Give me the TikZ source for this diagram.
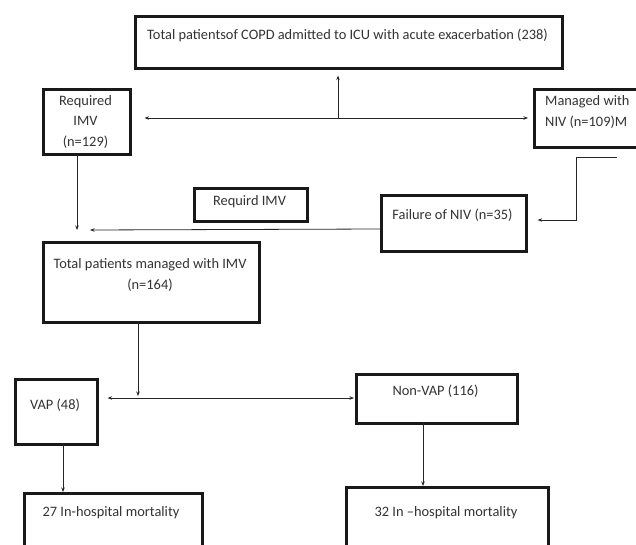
\documentclass[tikz,border=0pt]{standalone}
\usepackage{fontspec}
\setmainfont{Carlito}
\usetikzlibrary{arrows.meta}
\begin{document}
\begin{tikzpicture}[x=1pt,y=-1pt,
  box/.style={draw=black!90, line width=2.6pt, inner sep=0pt, anchor=north west},
  txt/.style={inner sep=0pt, text=black!80, font=\fontsize{14.4}{20.5}\selectfont, align=center},
  conn/.style={draw=black!85, line width=0.8pt},
  >={Stealth[length=4.5pt,width=3.5pt]}]
\clip (0,0) rectangle (636,545);
\fill[white] (0,0) rectangle (636,545);
% boxes
\node[box, minimum width=427, minimum height=52] (top) at (134,15) {};
\node[box, minimum width=87, minimum height=65] (req) at (42,88) {};
\node[box, minimum width=130, minimum height=58] (niv) at (533,88) {};
\node[box, minimum width=113, minimum height=33] (reqird) at (193,187) {};
\node[box, minimum width=145, minimum height=56] (fail) at (380,194) {};
\node[box, minimum width=216, minimum height=80] (imv) at (42,241) {};
\node[box, minimum width=82, minimum height=65] (vap) at (14,378) {};
\node[box, minimum width=161, minimum height=49] (nonvap) at (355,373) {};
\node[box, minimum width=178, minimum height=80] (m27) at (23,492) {};
\node[box, minimum width=202, minimum height=80] (m32) at (345,486) {};
% texts
\node[txt] (ttop) at (347.5,35) {Total patientsof COPD admitted to ICU with acute exacerbation (238)};
\node[txt] (treq) at (85.5,122) {Required\\IMV\\(n=129)};
\node[txt, align=left, anchor=west] (tniv) at (545,112) {Managed with\\NIV (n=109)M};
\node[txt] (treqird) at (249.5,202) {Requird IMV};
\node[txt] (tfail) at (452.5,215) {Failure of NIV (n=35)};
\node[txt] (timv) at (150,275) {Total patients managed with IMV\\(n=164)};
\node[txt] (tvap) at (55,405) {VAP (48)};
\node[txt] (tnonvap) at (435.5,391) {Non-VAP (116)};
\node[txt] (t27) at (111,513) {27 In-hospital mortality};
\node[txt] (t32) at (446,513) {32 In \textendash hospital mortality};
% coordinates
\coordinate (j1) at (338,118);
\coordinate (a1) at (77,153);
\coordinate (n1) at (617,157);
\coordinate (n2) at (576,157);
\coordinate (n3) at (576,220);
\coordinate (f1) at (380,229);
\coordinate (f2) at (90,230);
\coordinate (i1) at (138,321);
\coordinate (j2) at (138,398);
\coordinate (v1) at (63,443);
\coordinate (nv1) at (423,422);
% connectors
\draw[conn,->,shorten >=6pt] (j1) -- (j1 |- top.south);
\draw[conn,<->,shorten <=13pt,shorten >=5pt] (req.east |- j1) -- (niv.west |- j1);
\draw[conn,->,shorten >=11pt] (a1) -- (a1 |- imv.north);
\draw[conn,->,shorten >=10pt] (n1) -- (n2) -- (n3) -- (fail.east |- n3);
\draw[conn,->] (f1) -- (f2);
\draw[conn,->,shorten >=2pt] (i1) -- (j2);
\draw[conn,<->,shorten <=9pt,shorten >=1pt] (vap.east |- j2) -- (nonvap.west |- j2);
\draw[conn,->] (v1) -- (v1 |- m27.north);
\draw[conn,->] (nv1) -- (nv1 |- m32.north);
\end{tikzpicture}
\end{document}
